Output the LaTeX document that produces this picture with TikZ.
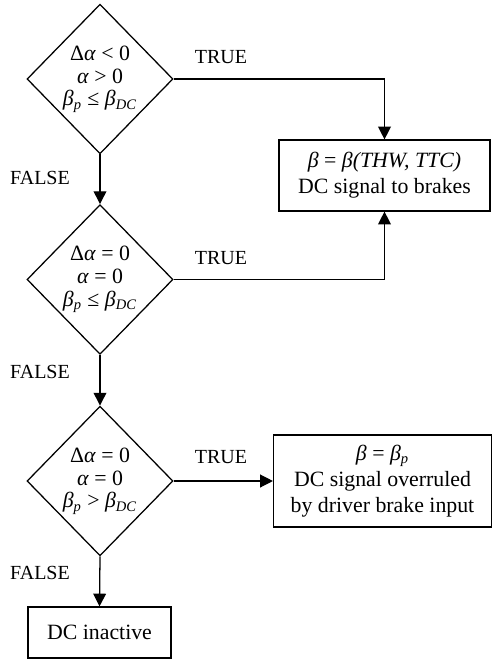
\documentclass[tikz,border=0pt]{standalone}
\usepackage{fontspec}
\setmainfont{Liberation Serif}
\usetikzlibrary{shapes.geometric,arrows.meta}
\newcommand{\sub}[1]{\textsubscript{\textit{#1}}}
\tikzset{
    decision/.style={diamond, draw, line width=0.7pt, minimum width=80.3pt, minimum height=82.3pt, inner sep=0pt, align=center, font=\fontsize{12}{12.6}\selectfont},
    action/.style={rectangle, draw, line width=0.7pt, inner sep=0pt, align=center, font=\fontsize{12}{14.2}\selectfont},
    branch/.style={font=\fontsize{11}{12}\selectfont},
    flow/.style={-{Triangle[length=7pt,width=7pt]}, line width=0.7pt}
}
\begin{document}
\begin{tikzpicture}[x=0.55pt, y=-0.55pt]
    \useasboundingbox (0,0) rectangle (492,660);
    \node[decision] (q1) at (100,79) {Δ\textit{α} < 0\\ \textit{α} > 0\\ \textit{β}\sub{p} ≤ \textit{β}\sub{DC}};
    \node[decision] (q2) at (100,279.5) {Δ\textit{α} = 0\\ \textit{α} = 0\\ \textit{β}\sub{p} ≤ \textit{β}\sub{DC}};
    \node[decision] (q3) at (100,481) {Δ\textit{α} = 0\\ \textit{α} = 0\\ \textit{β}\sub{p} > \textit{β}\sub{DC}};
    \node[action, minimum width=116pt, minimum height=39pt] (brake) at (384.5,175.5) {\textit{β} = \textit{β(THW, TTC)}\\ DC signal to brakes};
    \node[action, minimum width=119.8pt, minimum height=50.6pt] (overrule) at (382.5,481) {\textit{β} = \textit{β}\sub{p}\\ DC signal overruled\\ by driver brake input};
    \node[action, minimum width=78.7pt, minimum height=28pt] (inactive) at (99.5,632.5) {DC inactive};
    \node[branch] (t1) at (221,57) {TRUE};
    \node[branch] (t2) at (221,258) {TRUE};
    \node[branch] (t3) at (221,457) {TRUE};
    \node[branch] (f1) at (40,178) {FALSE};
    \node[branch] (f2) at (40,372) {FALSE};
    \node[branch] (f3) at (40,573) {FALSE};
    \draw[flow] (q1.east) -| (brake.north);
    \draw[flow] (q2.east) -| (brake.south);
    \draw[flow] (q3.east) -- (overrule.west);
    \draw[flow] (q1.south) -- (q2.north);
    \draw[flow] (q2.south) -- (q3.north);
    \draw[flow] (q3.south) -- (inactive.north);
\end{tikzpicture}
\end{document}
